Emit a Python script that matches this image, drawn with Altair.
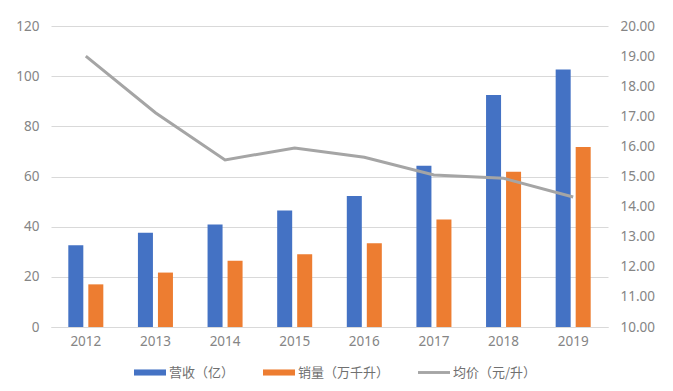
import altair as alt
import pandas as pd

years = ["2012", "2013", "2014", "2015", "2016", "2017", "2018", "2019"]
revenue = [32.6, 37.6, 40.9, 46.4, 52.2, 64.3, 92.5, 102.7]
volume = [17.0, 21.7, 26.4, 29.0, 33.4, 42.9, 61.9, 71.8]
price = [19.00, 17.12, 15.55, 15.95, 15.64, 15.05, 14.94, 14.32]

s_rev = "营收（亿）"
s_vol = "销量（万千升）"
s_price = "均价（元/升）"
series = [s_rev, s_vol, s_price]
colors = ["#4472C4", "#ED7D31", "#A5A5A5"]

bars = pd.DataFrame({
    "year": years * 2,
    "series": [s_rev] * len(years) + [s_vol] * len(years),
    "value": revenue + volume,
})
line_df = pd.DataFrame({"year": years, "series": s_price, "price": price})

FONT = "Noto Sans CJK SC"
NUMFONT = "Noto Sans"
GRAY = "#858585"

xscale = alt.Scale(domain=years, paddingInner=0.497, paddingOuter=0.2486)
color = alt.Color(
    "series:N",
    scale=alt.Scale(domain=series, range=colors),
    legend=alt.Legend(
        title=None, orient="none", direction="horizontal",
        legendX=83, legendY=330.5,
        labelFont=FONT, labelFontSize=13, labelColor="#707070",
        symbolSize=1024, labelOffset=3, columnPadding=28,
        symbolOpacity=1, symbolStrokeWidth=0,
    ),
)

bar_layer = alt.Chart(bars).mark_bar().encode(
    x=alt.X("year:N", scale=xscale, sort=years,
            axis=alt.Axis(title=None, labelAngle=0, ticks=False, domain=True,
                          domainColor="#d9d9d9", labelPadding=7)),
    xOffset=alt.XOffset("series:N", sort=[s_rev, s_vol],
                        scale=alt.Scale(paddingInner=0.25, paddingOuter=0)),
    y=alt.Y("value:Q", scale=alt.Scale(domain=[0, 120]),
            axis=alt.Axis(title=None, values=[0, 20, 40, 60, 80, 100, 120],
                          ticks=False, domain=False, gridColor="#d9d9d9",
                          labelPadding=12)),
    color=color,
)

legend_layer = alt.Chart(pd.DataFrame({"series": series, "v": [0, 0, 0]})).mark_point(
    filled=True, opacity=1
).encode(
    color=color,
    shape=alt.Shape("series:N", scale=alt.Scale(
        domain=series,
        range=["M-1,-0.19H1V0.19H-1Z", "M-1,-0.19H1V0.19H-1Z", "M-1,-0.09H1V0.09H-1Z"]),
        legend=alt.Legend(title=None)),
).transform_filter("datum.v > 1")

line_layer = alt.Chart(line_df).mark_line(strokeWidth=3, color="#A5A5A5").encode(
    x=alt.X("year:N", scale=xscale, sort=years),
    y=alt.Y("price:Q", scale=alt.Scale(domain=[10, 20]),
            axis=alt.Axis(title=None, orient="right",
                          values=[10, 11, 12, 13, 14, 15, 16, 17, 18, 19, 20],
                          format=".2f", ticks=False, domain=False, grid=False,
                          labelPadding=12)),
)

left = alt.layer(bar_layer, legend_layer)
chart = alt.layer(left, line_layer).resolve_scale(y="independent").properties(
    width=557, height=301,
    background="white",
    padding={"left": 43, "top": 18, "right": 57, "bottom": 56},
    autosize=alt.AutoSizeParams(type="none"),
).configure_view(stroke=None).configure_axis(
    labelFont=NUMFONT, labelFontSize=13.5, labelColor=GRAY,
)

chart.save("out.html", embed_options={"renderer": "svg", "actions": False})
